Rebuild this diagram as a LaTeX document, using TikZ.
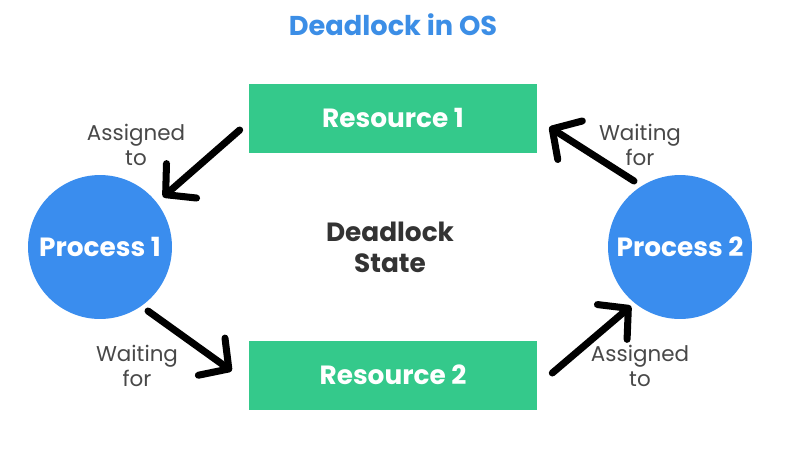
\documentclass[tikz,border=0pt]{standalone}
\usepackage{fontspec}
\setmainfont{Poppins}
\usetikzlibrary{arrows.meta}

\definecolor{procblue}{HTML}{3A8DEE}
\definecolor{resgreen}{HTML}{34C98B}
\definecolor{titleblue}{HTML}{3C8EE6}
\definecolor{labelgray}{HTML}{484848}

\tikzset{
    resbox/.style={fill=resgreen, minimum width=5.76cm, minimum height=1.38cm, text=white, font=\fontsize{15}{17}\selectfont\bfseries},
    procnode/.style={circle, fill=procblue, minimum size=2.88cm, inner sep=0pt, text=white, font=\fontsize{15}{17}\selectfont\bfseries},
    edgelabel/.style={text=labelgray, align=center, font=\fontsize{12.2}{14}\selectfont},
    waitlink/.style={line width=4pt, line cap=round, -{Straight Barb[length=12pt, width=26pt, round]}}
}

\begin{document}
\begin{tikzpicture}[x=0.02cm, y=-0.02cm]
    \useasboundingbox (0,0) rectangle (789,451);
    \node[text=titleblue, font=\fontsize{15.5}{17}\selectfont\bfseries] (title) at (393,25) {Deadlock in OS};
    \node[resbox] (res1) at (393,118) {Resource 1};
    \node[resbox] (res2) at (393,375) {Resource 2};
    \node[procnode] (proc1) at (100,247) {Process 1};
    \node[procnode] (proc2) at (680,247) {Process 2};
    \node[align=center, text=black!80, font=\fontsize{15}{17.5}\selectfont\bfseries] (state) at (390,247) {Deadlock\\State};
    % arrow end points, next to the boxes and circles
    \coordinate (a1s) at ([shift={(-9,12)}]res1.west);
    \coordinate (a1e) at ([shift={(63,-50)}]proc1.center);
    \coordinate (a2s) at ([shift={(-46,-66)}]proc2.center);
    \coordinate (a2e) at ([shift={(12,9)}]res1.east);
    \coordinate (a3s) at ([shift={(48,64)}]proc1.center);
    \coordinate (a3e) at ([shift={(-17,-4)}]res2.west);
    \coordinate (a4s) at ([shift={(15,-2)}]res2.east);
    \coordinate (a4e) at ([shift={(-49,59)}]proc2.center);
    \draw[waitlink] (a1s) -- (a1e);
    \draw[waitlink] (a2s) -- (a2e);
    \draw[waitlink] (a3s) -- (a3e);
    \draw[waitlink] (a4s) -- (a4e);
    \node[edgelabel] (lab1) at (136,145) {Assigned\\to};
    \node[edgelabel] (lab2) at (640,145) {Waiting\\for};
    \node[edgelabel] (lab3) at (137,366) {Waiting\\for};
    \node[edgelabel] (lab4) at (640,366) {Assigned\\to};
\end{tikzpicture}
\end{document}
